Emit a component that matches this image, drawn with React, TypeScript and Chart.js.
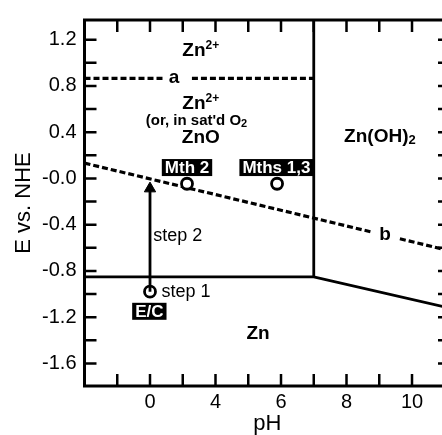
import React, { useEffect, useRef } from 'react';
import { Chart, registerables } from 'chart.js';

Chart.register(...registerables);

// ---- axis ticks ----
const xTickValues = [2, 4, 6, 8, 10];
const xTickLabels = ['0', '4', '6', '8', '10'];
const yTickValues = [-1.6, -1.2, -0.8, -0.4, 0, 0.4, 0.8, 1.2];
const yTickLabels = ['-1.6', '-1.2', '-0.8', '-0.4', '-0.0', '0.4', '0.8', '1.2'];
const xMinorTicks = [1, 2, 3, 4, 5, 6, 7, 8, 9, 10, 11];
const yMinorTicks = [-1.6, -1.4, -1.2, -1.0, -0.8, -0.6, -0.4, -0.2, 0, 0.2, 0.4, 0.6, 0.8, 1.0, 1.2];

const X_MIN = 0;
const X_MAX = 11.16;
const Y_MIN = -1.795;
const Y_MAX = 1.37;

// ---- phase boundaries (solid) ----
const boundaryVertical = [{ x: 7, y: 1.37 }, { x: 7, y: -0.852 }];
const boundaryZn = [{ x: 0, y: -0.852 }, { x: 7, y: -0.852 }, { x: 11.16, y: -1.122 }];

// ---- dashed lines a and b (with label gaps) ----
const lineA = [
  { x: 0, y: 0.865 }, { x: 2.4, y: 0.865 }, { x: 2.4, y: null },
  { x: 3.28, y: 0.865 }, { x: 7, y: 0.865 },
];
const lineB = [
  { x: 0, y: 0.132 }, { x: 8.78, y: -0.464 }, { x: 8.78, y: null },
  { x: 9.63, y: -0.522 }, { x: 11.16, y: -0.626 },
];

// ---- points ----
const methodPoints = [{ x: 3.13, y: -0.046 }, { x: 5.88, y: -0.046 }];
const step1Point = [{ x: 2, y: -0.979 }];
const arrowStep2 = [{ x: 2, y: -0.979 }, { x: 2, y: -0.088 }];

// ---- text annotations (data coordinates) ----
const regionLabels = [
  { parts: [['Zn', 19, 0], ['2+', 12, -5]], x: 3.55, y: 1.107 },
  { parts: [['Zn', 19, 0], ['2+', 12, -5]], x: 3.55, y: 0.649 },
  { parts: [["(or, in sat'd O", 15, 0], ['2', 11, 3]], x: 3.42, y: 0.5 },
  { parts: [['ZnO', 19, 0]], x: 3.55, y: 0.35 },
  { parts: [['Zn(OH)', 19, 0], ['2', 13, 4]], x: 9.02, y: 0.36 },
  { parts: [['Zn', 19, 0]], x: 5.3, y: -1.344 },
  { parts: [['a', 19, 0]], x: 2.73, y: 0.87 },
  { parts: [['b', 19, 0]], x: 9.18, y: -0.487 },
];
const stepLabels = [
  { text: 'step 2', x: 2.1, y: -0.5 },
  { text: 'step 1', x: 2.35, y: -0.98 },
];
const boxLabels = [
  { text: 'Mth 2', x: 3.13, y: 0.094 },
  { text: 'Mths 1,3', x: 5.86, y: 0.094 },
  { text: 'E/C', x: 1.98, y: -1.149 },
];

const FONT = "'Liberation Sans', Arial, Helvetica, sans-serif";

const overlayPlugin = {
  id: 'overlay',
  afterDatasetsDraw(chart: any) {
    const { ctx, chartArea: a, scales } = chart;
    const xs = scales.x;
    const ys = scales.y;
    ctx.save();
    ctx.strokeStyle = '#000';
    ctx.fillStyle = '#000';
    ctx.lineWidth = 3;
    ctx.lineCap = 'butt';
    // frame
    ctx.strokeRect(a.left, a.top, a.right - a.left, a.bottom - a.top);
    // inward ticks
    const TL = 12;
    ctx.lineWidth = 2.5;
    ctx.beginPath();
    xMinorTicks.forEach((v) => {
      const px = xs.getPixelForValue(v);
      ctx.moveTo(px, a.top); ctx.lineTo(px, a.top + TL);
      ctx.moveTo(px, a.bottom); ctx.lineTo(px, a.bottom - TL);
    });
    yMinorTicks.forEach((v) => {
      const py = ys.getPixelForValue(v);
      ctx.moveTo(a.left, py); ctx.lineTo(a.left + TL, py);
      ctx.moveTo(a.right, py); ctx.lineTo(a.right - TL, py);
    });
    ctx.stroke();

    // rich region labels
    ctx.textBaseline = 'middle';
    ctx.textAlign = 'left';
    regionLabels.forEach((lab) => {
      let total = 0;
      const widths = lab.parts.map(([t, s]) => {
        ctx.font = `bold ${s}px ${FONT}`;
        const w = ctx.measureText(t as string).width;
        total += w;
        return w;
      });
      let cx = xs.getPixelForValue(lab.x) - total / 2;
      const cy = ys.getPixelForValue(lab.y);
      lab.parts.forEach(([t, s, dy], i) => {
        ctx.font = `bold ${s}px ${FONT}`;
        ctx.fillText(t as string, cx, cy + (dy as number));
        cx += widths[i];
      });
    });

    // step labels
    ctx.font = `18px ${FONT}`;
    stepLabels.forEach((lab) => {
      ctx.fillText(lab.text, xs.getPixelForValue(lab.x), ys.getPixelForValue(lab.y));
    });

    // boxed labels
    ctx.textAlign = 'center';
    boxLabels.forEach((lab) => {
      ctx.font = `bold 17px ${FONT}`;
      const w = ctx.measureText(lab.text).width + 6;
      const h = 17;
      const cx = xs.getPixelForValue(lab.x);
      const cy = ys.getPixelForValue(lab.y);
      ctx.fillStyle = '#000';
      ctx.fillRect(cx - w / 2, cy - h / 2, w, h);
      ctx.fillStyle = '#fff';
      ctx.fillText(lab.text, cx, cy + 1);
    });
    ctx.restore();
  },
};

export default function App() {
  const ref = useRef<HTMLCanvasElement | null>(null);
  useEffect(() => {
    if (!ref.current) return;
    Chart.defaults.font.family = FONT;
    Chart.defaults.color = '#000';
    const solid = { showLine: true, borderColor: '#000', borderWidth: 2.8, pointRadius: 0, fill: false };
    const dashed = { ...solid, borderWidth: 3.2, borderDash: [6, 3] };
    const chart = new Chart(ref.current, {
      type: 'scatter',
      data: {
        datasets: [
          { ...solid, data: arrowStep2, order: 0, pointRadius: [0, 6.5], pointStyle: 'triangle', pointBackgroundColor: '#000', pointBorderColor: '#000', pointBorderWidth: 1 } as any,
          { data: methodPoints, order: 1, showLine: false, pointRadius: 5.5, pointBorderWidth: 2.8, pointBackgroundColor: '#fff', pointBorderColor: '#000' } as any,
          { data: step1Point, order: 1, showLine: false, pointRadius: 5.5, pointBorderWidth: 2.8, pointBackgroundColor: '#fff', pointBorderColor: '#000' } as any,
          { ...solid, data: boundaryVertical, order: 3 } as any,
          { ...solid, data: boundaryZn, order: 3 } as any,
          { ...dashed, data: lineA, order: 4, spanGaps: false } as any,
          { ...dashed, data: lineB, order: 4, spanGaps: false } as any,
        ],
      },
      options: {
        animation: false,
        responsive: false,
        devicePixelRatio: 1,
        layout: { padding: { top: 13, right: 20, left: 0, bottom: 0 } },
        plugins: { legend: { display: false }, tooltip: { enabled: false } },
        events: [],
        scales: {
          x: {
            type: 'linear',
            min: X_MIN,
            max: X_MAX,
            grid: { display: false, drawTicks: false },
            border: { display: false },
            afterBuildTicks: (s: any) => { s.ticks = xTickValues.map((v) => ({ value: v })); },
            afterFit: (s: any) => { s.height = 49; },
            ticks: {
              autoSkip: false,
              maxRotation: 0,
              padding: 4,
              font: { size: 20 },
              callback: (v: any) => xTickLabels[xTickValues.indexOf(Number(v))] ?? '',
            },
            title: { display: true, text: 'pH', font: { size: 22 }, padding: { top: 0, bottom: -2 } },
          },
          y: {
            type: 'linear',
            min: Y_MIN,
            max: Y_MAX,
            grid: { display: false, drawTicks: false },
            border: { display: false },
            afterBuildTicks: (s: any) => { s.ticks = yTickValues.map((v) => ({ value: v })); },
            afterFit: (s: any) => { s.width = 84.5; },
            ticks: {
              autoSkip: false,
              padding: 8,
              font: { size: 20 },
              callback: (v: any) => {
                const i = yTickValues.findIndex((t) => Math.abs(t - Number(v)) < 1e-6);
                return i >= 0 ? yTickLabels[i] : '';
              },
            },
            title: { display: true, text: 'E vs. NHE', font: { size: 22 }, padding: { top: 11, bottom: 0 } },
          },
        },
      },
      plugins: [overlayPlugin],
    });
    return () => chart.destroy();
  }, []);

  return (
    <div style={{ position: 'fixed', left: 0, top: 0, width: 442, height: 435, overflow: 'hidden', background: '#fff' }}>
      <canvas ref={ref} width={470} height={435} style={{ display: 'block' }} />
    </div>
  );
}
